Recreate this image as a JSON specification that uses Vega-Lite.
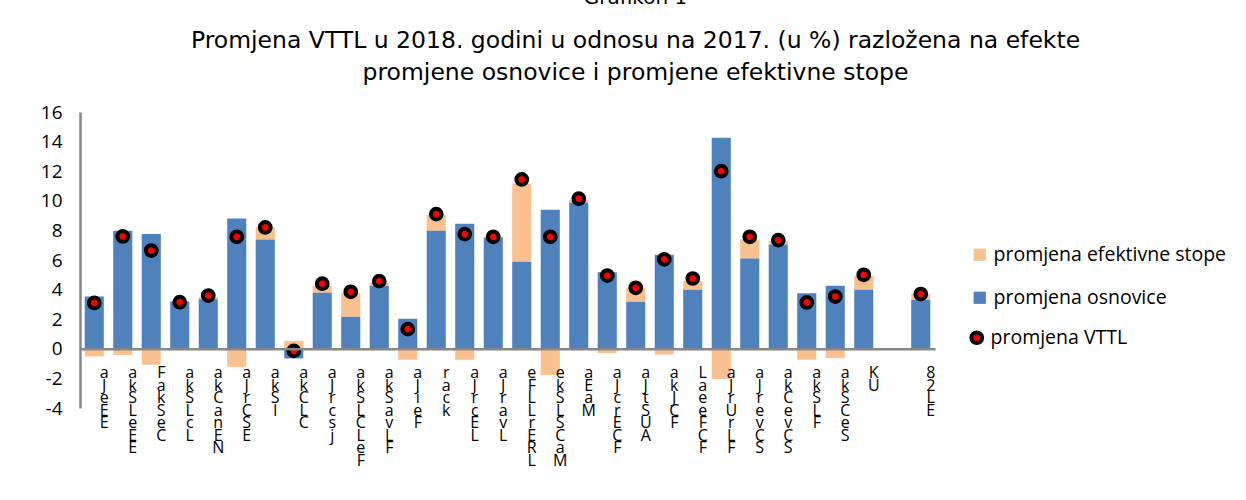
{
  "$schema": "https://vega.github.io/schema/vega-lite/v6.json",
  "width": 855,
  "height": 296,
  "autosize": {"type": "none"},
  "padding": {"left": 80, "top": 112, "right": 311, "bottom": 92},
  "background": "white",
  "title": {
    "text": "Grafikon 1",
    "subtitle": ["Promjena VTTL u 2018. godini u odnosu na 2017. (u %) razložena na efekte", "promjene osnovice i promjene efektivne stope"],
    "anchor": "middle",
    "frame": "group",
    "dx": 128,
    "font": "DejaVu Sans",
    "fontSize": 20,
    "fontWeight": "normal",
    "color": "black",
    "subtitleFont": "DejaVu Sans",
    "subtitleFontSize": 23.5,
    "subtitleColor": "black",
    "subtitleLineHeight": 32,
    "subtitlePadding": 21,
    "offset": 19
  },
  "config": {"view": {"stroke": null}, "axisY": {"labelOverlap": false}},
  "data": {
    "values": [
      {"k": "aJeEE", "promjena osnovice": 3.53, "promjena efektivne stope": -0.52, "promjena VTTL": 3.1},
      {"k": "akSLeEE", "promjena osnovice": 7.97, "promjena efektivne stope": -0.41, "promjena VTTL": 7.59},
      {"k": "FakSeC", "promjena osnovice": 7.75, "promjena efektivne stope": -1.08, "promjena VTTL": 6.64},
      {"k": "akSLcL", "promjena osnovice": 3.2, "promjena efektivne stope": -0.05, "promjena VTTL": 3.15},
      {"k": "akCanEN", "promjena osnovice": 3.35, "promjena efektivne stope": 0.15, "promjena VTTL": 3.6},
      {"k": "aJrCSE", "promjena osnovice": 8.8, "promjena efektivne stope": -1.22, "promjena VTTL": 7.57},
      {"k": "akSI", "promjena osnovice": 7.39, "promjena efektivne stope": 0.83, "promjena VTTL": 8.2},
      {"k": "akCLC", "promjena osnovice": -0.65, "promjena efektivne stope": 0.54, "promjena VTTL": -0.14},
      {"k": "aJrcsj", "promjena osnovice": 3.78, "promjena efektivne stope": 0.48, "promjena VTTL": 4.4},
      {"k": "akSLCLeF", "promjena osnovice": 2.16, "promjena efektivne stope": 1.62, "promjena VTTL": 3.85},
      {"k": "akSavLF", "promjena osnovice": 4.26, "promjena efektivne stope": 0.2, "promjena VTTL": 4.57},
      {"k": "aJieF", "promjena osnovice": 2.03, "promjena efektivne stope": -0.74, "promjena VTTL": 1.33},
      {"k": "rack", "promjena osnovice": 7.97, "promjena efektivne stope": 1.08, "promjena VTTL": 9.1},
      {"k": "aJrcEL", "promjena osnovice": 8.45, "promjena efektivne stope": -0.74, "promjena VTTL": 7.75},
      {"k": "aJravL", "promjena osnovice": 7.52, "promjena efektivne stope": 0.05, "promjena VTTL": 7.57},
      {"k": "eFLL rERL", "promjena osnovice": 5.88, "promjena efektivne stope": 5.27, "promjena VTTL": 11.44},
      {"k": "ekSLSCaM", "promjena osnovice": 9.39, "promjena efektivne stope": -1.78, "promjena VTTL": 7.57},
      {"k": "aEaM", "promjena osnovice": 9.86, "promjena efektivne stope": 0.21, "promjena VTTL": 10.14},
      {"k": "aJcrECF", "promjena osnovice": 5.18, "promjena efektivne stope": -0.29, "promjena VTTL": 4.95},
      {"k": "aJtSUA", "promjena osnovice": 3.18, "promjena efektivne stope": 0.94, "promjena VTTL": 4.12},
      {"k": "akJCF", "promjena osnovice": 6.35, "promjena efektivne stope": -0.38, "promjena VTTL": 6.04},
      {"k": "LaeeFCF", "promjena osnovice": 3.99, "promjena efektivne stope": 0.6, "promjena VTTL": 4.75},
      {"k": "aJrUrLF", "promjena osnovice": 14.26, "promjena efektivne stope": -2.05, "promjena VTTL": 12.0},
      {"k": "aJrevCS", "promjena osnovice": 6.1, "promjena efektivne stope": 1.29, "promjena VTTL": 7.57},
      {"k": "akCevCS", "promjena osnovice": 7.05, "promjena efektivne stope": 0.22, "promjena VTTL": 7.34},
      {"k": "akSLF", "promjena osnovice": 3.76, "promjena efektivne stope": -0.74, "promjena VTTL": 3.13},
      {"k": "akSCeS", "promjena osnovice": 4.26, "promjena efektivne stope": -0.63, "promjena VTTL": 3.53},
      {"k": "KU", "promjena osnovice": 3.99, "promjena efektivne stope": 0.94, "promjena VTTL": 5.0},
      {"k": " ", "promjena osnovice": null, "promjena efektivne stope": null, "promjena VTTL": null},
      {"k": "82LE", "promjena osnovice": 3.31, "promjena efektivne stope": 0.39, "promjena VTTL": 3.7}
    ]
  },
  "layer": [
    {
      "transform": [{"fold": ["promjena efektivne stope", "promjena osnovice"], "as": ["serija", "vrijednost"]}],
      "mark": {"type": "bar"},
      "encoding": {
        "x": {
          "field": "k",
          "type": "nominal",
          "sort": null,
          "scale": {
            "domain": ["aJeEE", "akSLeEE", "FakSeC", "akSLcL", "akCanEN", "aJrCSE", "akSI", "akCLC", "aJrcsj", "akSLCLeF", "akSavLF", "aJieF", "rack", "aJrcEL", "aJravL", "eFLL rERL", "ekSLSCaM", "aEaM", "aJcrECF", "aJtSUA", "akJCF", "LaeeFCF", "aJrUrLF", "aJrevCS", "akCevCS", "akSLF", "akSCeS", "KU", " ", "82LE"],
            "paddingInner": 0.33,
            "paddingOuter": 0.165
          },
          "axis": {
            "title": null,
            "offset": -59.2,
            "domainColor": "#868686",
            "domainWidth": 2.5,
            "ticks": false,
            "labelAngle": 0,
            "labelFont": "Open Sans",
            "labelFontSize": 16,
            "labelLineHeight": 12.5,
            "labelColor": "black",
            "labelExpr": "split(datum.label, '')",
            "labelBaseline": "top",
            "labelPadding": 16,
            "labelOffset": 10,
            "labelOverlap": false,
            "zindex": 1
          }
        },
        "y": {
          "field": "vrijednost",
          "type": "quantitative",
          "stack": "zero",
          "scale": {"domain": [-4, 16], "nice": false},
          "axis": {
            "title": null,
            "values": [-4, -2, 0, 2, 4, 6, 8, 10, 12, 14, 16],
            "labelExpr": "toString(datum.value)",
            "labelOverlap": false,
            "grid": false,
            "ticks": false,
            "domainColor": "#868686",
            "domainWidth": 2.5,
            "labelFont": "Open Sans",
            "labelFontSize": 19,
            "labelColor": "black",
            "labelPadding": 18
          }
        },
        "color": {
          "field": "serija",
          "type": "nominal",
          "scale": {"domain": ["promjena efektivne stope", "promjena osnovice"], "range": ["#FAC090", "#4F81BD"]},
          "legend": {
            "orient": "none",
            "legendX": 890,
            "legendY": 133,
            "title": null,
            "padding": 0,
            "symbolType": "square",
            "symbolSize": 150,
            "symbolStrokeWidth": 0,
            "labelFont": "Open Sans",
            "labelFontSize": 19.5,
            "labelColor": "black",
            "labelOffset": 4,
            "labelLimit": 0,
            "rowPadding": 22
          }
        },
        "order": {"field": "serija", "sort": "descending"}
      }
    },
    {
      "mark": {"type": "point", "filled": false, "fill": "#FF0000", "fillOpacity": 1, "strokeWidth": 4, "size": 115, "opacity": 1},
      "encoding": {
        "x": {"field": "k", "type": "nominal", "sort": null},
        "y": {
          "field": "promjena VTTL",
          "type": "quantitative",
          "scale": {"domain": [-4, 16], "nice": false},
          "axis": {
            "title": null,
            "values": [-4, -2, 0, 2, 4, 6, 8, 10, 12, 14, 16],
            "labelExpr": "toString(datum.value)",
            "labelOverlap": false,
            "grid": false,
            "ticks": false,
            "domainColor": "#868686",
            "domainWidth": 2.5,
            "labelFont": "Open Sans",
            "labelFontSize": 19,
            "labelColor": "black",
            "labelPadding": 18
          }
        },
        "stroke": {
          "datum": "promjena VTTL",
          "scale": {"range": ["black"]},
          "legend": {
            "orient": "none",
            "legendX": 887,
            "legendY": 216,
            "title": null,
            "padding": 0,
            "symbolType": "circle",
            "symbolFillColor": "#FF0000",
            "symbolStrokeWidth": 4,
            "symbolSize": 115,
            "labelFont": "Open Sans",
            "labelFontSize": 19.5,
            "labelColor": "black",
            "labelOffset": 4,
            "labelLimit": 0
          }
        }
      }
    }
  ]
}
